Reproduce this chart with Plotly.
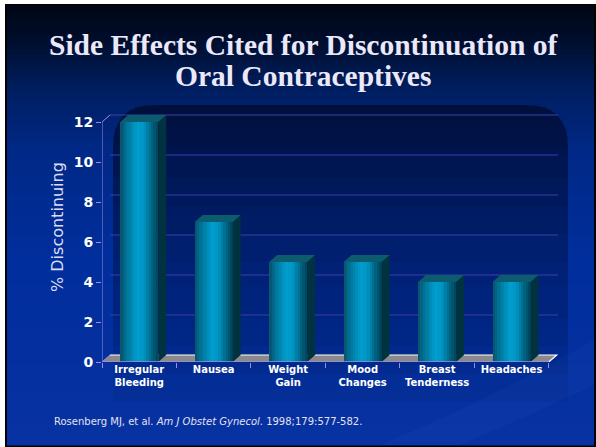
import plotly.graph_objects as go

# ---------------- data ----------------
categories = ["Irregular<br>Bleeding", "Nausea", "Weight<br>Gain", "Mood<br>Changes",
              "Breast<br>Tenderness", "Headaches"]
values = [12, 7, 5, 5, 4, 4]
y_ticks = [0, 2, 4, 6, 8, 10, 12]
title_lines = ["Side Effects Cited for Discontinuation of", "Oral Contraceptives"]
y_title = "% Discontinuing"
footnote = "Rosenberg MJ, et al. <i>Am J Obstet Gynecol</i>. 1998;179:577-582."

# ---------------- geometry ----------------
W, H = 596, 447
L, R, T, B = 102, 38, 110, 85
PW, PH = W - L - R, H - T - B
XR = [-0.5, 5.624]
YR = [0, 12.6]
PX_X = PW / (XR[1] - XR[0])
PX_Y = PH / (YR[1] - YR[0])
DX = 8 / PX_X           # 3-D depth in data units
DY = 7 / PX_Y
BAR_W = 38 / PX_X
N_SLICES = 16

LAV = "#a08be0"


def xp(px):
    return (px - L) / PW


def yp(py):
    return (H - B - py) / PH


def lerp_color(stops, t):
    for (t0, c0), (t1, c1) in zip(stops[:-1], stops[1:]):
        if t0 <= t <= t1:
            f = (t - t0) / (t1 - t0) if t1 > t0 else 0
            c = [round(a + (b - a) * f) for a, b in zip(c0, c1)]
            return "rgb(%d,%d,%d)" % tuple(c)
    return "rgb(%d,%d,%d)" % stops[-1][1]


bar_stops = [(0.0, (10, 80, 104)), (0.15, (0, 112, 148)), (0.45, (0, 158, 206)),
             (0.62, (0, 150, 196)), (0.85, (0, 96, 126)), (1.0, (0, 66, 88))]
bg_stops = [(5, (0, 5, 20)), (40, (0, 14, 44)), (90, (0, 30, 96)), (150, (0, 40, 134)),
            (260, (0, 46, 156)), (447, (8, 50, 162))]

fig = go.Figure()

# front faces as gradient slices of the bars
xs = list(range(len(categories)))
for k in range(N_SLICES):
    t = (k + 0.5) / N_SLICES
    fig.add_trace(go.Bar(
        x=xs, y=values,
        width=[BAR_W / N_SLICES * 1.03] * len(xs),
        offset=[-BAR_W / 2 + k * BAR_W / N_SLICES] * len(xs),
        marker=dict(color=lerp_color(bar_stops, t), line=dict(width=0)),
        showlegend=False, hoverinfo="skip"))

# side and top faces
for i, v in zip(xs, values):
    xr = i + BAR_W / 2
    xl = i - BAR_W / 2
    fig.add_trace(go.Scatter(
        x=[xr, xr + DX, xr + DX, xr, xr], y=[0, DY, v + DY, v, 0],
        fill="toself", fillcolor="rgb(0,50,64)", mode="lines",
        line=dict(width=0, color="rgb(0,50,64)"), showlegend=False, hoverinfo="skip"))
    fig.add_trace(go.Scatter(
        x=[xl, xl + DX, xr + DX, xr, xl], y=[v, v + DY, v + DY, v, v],
        fill="toself", fillcolor="rgb(12,92,112)", mode="lines",
        line=dict(width=0, color="rgb(12,92,112)"), showlegend=False, hoverinfo="skip"))

shapes = []
# slide: white outside, black border, gradient
shapes.append(dict(type="rect", xref="paper", yref="paper", x0=xp(5), x1=xp(596),
                   y0=yp(4), y1=yp(447), fillcolor="black", line=dict(width=0), layer="below"))
step = 5
for py in range(5, 445, step):
    shapes.append(dict(type="rect", xref="paper", yref="paper", x0=xp(7), x1=xp(594),
                       y0=yp(py), y1=yp(min(py + step, 445) + 0.5),
                       fillcolor=lerp_color(bg_stops, py + step / 2),
                       line=dict(width=0), layer="below"))
# light swoosh lower right (subtle)
sw = [(380, 445), (500, 395), (594, 340), (594, 385), (520, 420), (460, 445)]
shapes.append(dict(type="path", xref="paper", yref="paper",
                   path="M %f,%f Q %f,%f %f,%f L %f,%f Q %f,%f %f,%f Z" % (
                       xp(sw[0][0]), yp(sw[0][1]), xp(sw[1][0]), yp(sw[1][1]), xp(sw[2][0]), yp(sw[2][1]),
                       xp(sw[3][0]), yp(sw[3][1]), xp(sw[4][0]), yp(sw[4][1]), xp(sw[5][0]), yp(sw[5][1])),
                   fillcolor="#3a64d0", opacity=0.09, line=dict(width=0), layer="below"))


# dark rounded panel, fading downward
def panel_path(x0, x1, y0, y1, r):
    return ("M %f,%f L %f,%f Q %f,%f %f,%f L %f,%f Q %f,%f %f,%f L %f,%f Z" % (
        xp(x0), yp(y1), xp(x0), yp(y0 + r), xp(x0), yp(y0), xp(x0 + r), yp(y0),
        xp(x1 - r), yp(y0), xp(x1), yp(y0), xp(x1), yp(y0 + r), xp(x1), yp(y1)))


for k in range(10):
    shapes.append(dict(type="path", xref="paper", yref="paper",
                       path=panel_path(113, 568, 105, 150 + 28 * k, 42),
                       fillcolor="black", opacity=0.05, line=dict(width=0), layer="below"))

# floor
shapes.append(dict(type="path", xref="x", yref="y",
                   path="M %f,0 L %f,%f L %f,%f L %f,0 Z" % (-0.5, -0.5 + DX, DY, 5.5 + DX, DY, 5.5),
                   fillcolor="#8a8a8a", line=dict(width=0), layer="below"))
# gridlines on the back wall
for v in y_ticks[1:]:
    shapes.append(dict(type="line", xref="x", yref="y", x0=-0.5 + DX, x1=XR[1],
                       y0=v + DY, y1=v + DY, line=dict(color="#3a3fa8", width=1), layer="below"))
shapes.append(dict(type="path", xref="x", yref="y",
                   path="M %f,%f L %f,%f L %f,0" % (-0.5 + DX, DY, 5.5 + DX, DY, 5.5),
                   line=dict(color="white", width=1.2), layer="below"))
# axes lines
shapes.append(dict(type="line", xref="x", yref="y", x0=-0.5, x1=-0.5, y0=0, y1=y_ticks[-1],
                   line=dict(color=LAV, width=1)))
shapes.append(dict(type="line", xref="x", yref="y", x0=-0.5, x1=-0.5 + DX, y0=y_ticks[-1],
                   y1=y_ticks[-1] + DY, line=dict(color=LAV, width=1)))
shapes.append(dict(type="line", xref="x", yref="y", x0=-0.5, x1=-0.5 + DX, y0=0,
                   y1=DY, line=dict(color=LAV, width=1)))
shapes.append(dict(type="line", xref="x", yref="y", x0=-0.5, x1=5.5, y0=0, y1=0,
                   line=dict(color=LAV, width=1.5)))

annotations = []
for j, line in enumerate(title_lines):
    annotations.append(dict(xref="paper", yref="paper", x=xp(303), y=yp(45 + 31 * j),
                            text="<b>%s</b>" % line, showarrow=False, xanchor="center",
                            yanchor="middle",
                            font=dict(family="Liberation Serif", size=29.5, color="#ebe8fa")))
annotations.append(dict(xref="paper", yref="paper", x=xp(57), y=yp(227), text=y_title,
                        textangle=-90, showarrow=False, xanchor="center", yanchor="middle",
                        font=dict(family="DejaVu Sans", size=16, color="#dcdcf5")))
annotations.append(dict(xref="paper", yref="paper", x=xp(52), y=yp(421), text=footnote,
                        showarrow=False, xanchor="left", yanchor="middle",
                        font=dict(family="DejaVu Sans", size=10, color="#e2e2f2")))

fig.update_layout(
    width=W, height=H, margin=dict(l=L, r=R, t=T, b=B, pad=0),
    paper_bgcolor="white", plot_bgcolor="rgba(0,0,0,0)",
    barmode="overlay", bargap=0, showlegend=False,
    shapes=shapes, annotations=annotations,
    xaxis=dict(range=XR, tickmode="array", tickvals=xs, ticktext=categories,
               showgrid=False, zeroline=False, showline=False, ticks="",
               tickfont=dict(family="DejaVu Sans", size=10, color="white", weight="bold"),
               minor=dict(tickmode="array", tickvals=[i - 0.5 for i in range(len(categories) + 1)],
                          ticks="outside", ticklen=5, tickcolor=LAV, tickwidth=1, showgrid=False),
               fixedrange=True),
    yaxis=dict(range=YR, tickmode="array", tickvals=y_ticks, showgrid=False, zeroline=False,
               showline=False, ticks="outside", ticklen=5, tickcolor=LAV, tickwidth=1,
               tickfont=dict(family="DejaVu Sans", size=14, color="white", weight="bold"),
               fixedrange=True),
)

fig.write_html("out.html")
